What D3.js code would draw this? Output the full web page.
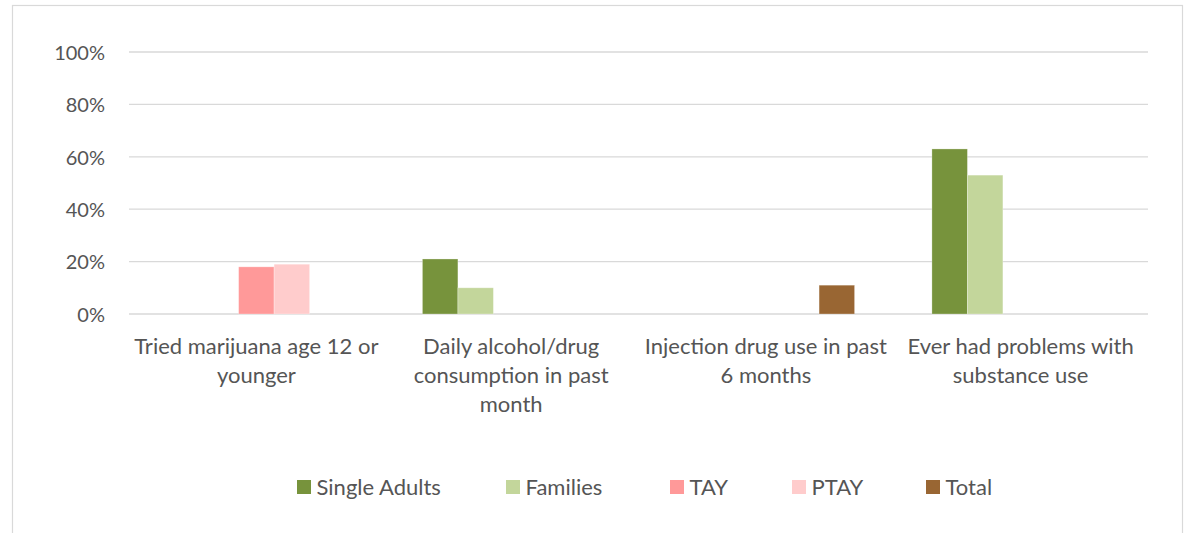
<!DOCTYPE html>
<html>
<head>
<meta charset="utf-8">
<script src="https://cdn.jsdelivr.net/npm/d3@7"></script>
<style>
  html, body { margin: 0; padding: 0; background: #fff; }
  svg { display: block; font-family: Lato, "Open Sans", sans-serif; }
</style>
</head>
<body>
<svg id="chart" width="1192" height="533"></svg>
<script>
// Substance use indicators by population
const categories = [
  "Tried marijuana age 12 or\nyounger",
  "Daily alcohol/drug\nconsumption in past\nmonth",
  "Injection drug use in past\n6 months",
  "Ever had problems with\nsubstance use"
];
const seriesNames = ["Single Adults", "Families", "TAY", "PTAY", "Total"];
const seriesColors = ["#77933C", "#C3D69B", "#FF9999", "#FFCCCC", "#996633"];
// values in %, null where a group has no bar
const singleAdults = [null, 21, null, 63];
const families     = [null, 10, null, 53];
const tay          = [18, null, null, null];
const ptay         = [19, null, null, null];
const total        = [null, null, 11, null];
const yTicks = [0, 20, 40, 60, 80, 100];

const seriesValues = [singleAdults, families, tay, ptay, total];

const svg = d3.select("#chart");
const plot = { left: 129, right: 1148, top: 52, bottom: 314 };
const textColor = "#555555";

// outer chart frame (bottom edge runs past the page)
svg.append("rect")
  .attr("x", 12.5).attr("y", 5.5)
  .attr("width", 1170).attr("height", 540)
  .attr("fill", "#fff").attr("stroke", "#D9D9D9").attr("stroke-width", 1.2);

const x0 = d3.scaleBand()
  .domain(d3.range(categories.length))
  .range([plot.left, plot.right])
  .paddingInner(0).paddingOuter(0);

const x1 = d3.scaleBand()
  .domain(d3.range(seriesNames.length))
  .range([0, x0.bandwidth()])
  .paddingOuter(1.09).paddingInner(0);

const y = d3.scaleLinear().domain([0, 100]).range([plot.bottom, plot.top]);

// gridlines
svg.append("g").selectAll("line")
  .data(yTicks)
  .join("line")
  .attr("x1", plot.left).attr("x2", plot.right)
  .attr("y1", d => y(d)).attr("y2", d => y(d))
  .attr("stroke", "#D9D9D9").attr("stroke-width", 1.3);

// y axis tick labels
const yAxis = d3.axisLeft(y).tickValues(yTicks).tickFormat(d => d + "%").tickSize(0).tickPadding(0);
const yg = svg.append("g").attr("transform", `translate(105,0)`).call(yAxis);
yg.select(".domain").remove();
yg.selectAll("text")
  .attr("fill", textColor)
  .style("font-size", "20px")
  .style("font-family", "Lato, 'Open Sans', sans-serif")
  .attr("dy", "0.36em");

// bars
const bars = [];
seriesValues.forEach((vals, si) => {
  vals.forEach((v, ci) => {
    if (v !== null) bars.push({ si, ci, v });
  });
});
svg.append("g").selectAll("rect")
  .data(bars)
  .join("rect")
  .attr("x", d => x0(d.ci) + x1(d.si))
  .attr("width", x1.bandwidth())
  .attr("y", d => y(d.v))
  .attr("height", d => y(0) - y(d.v))
  .attr("fill", d => seriesColors[d.si])
  .attr("stroke", "rgba(255,255,255,0.35)")
  .attr("stroke-width", 0.8);

// category labels
const catG = svg.append("g");
categories.forEach((c, i) => {
  const cx = x0(i) + x0.bandwidth() / 2;
  const t = catG.append("text")
    .attr("text-anchor", "middle")
    .attr("fill", textColor)
    .style("font-size", "22px");
  c.split("\n").forEach((line, li) => {
    t.append("tspan").attr("x", cx).attr("y", 354 + li * 29).text(line);
  });
});

// legend
const legendX = [297, 506, 670, 792, 926];
const lg = svg.append("g");
seriesNames.forEach((name, i) => {
  const g = lg.append("g").attr("transform", `translate(${legendX[i]},480)`);
  g.append("rect").attr("width", 14).attr("height", 14).attr("fill", seriesColors[i]);
  g.append("text").attr("x", 19.5).attr("y", 15)
    .attr("fill", textColor).style("font-size", "22px").text(name);
});
</script>
</body>
</html>
